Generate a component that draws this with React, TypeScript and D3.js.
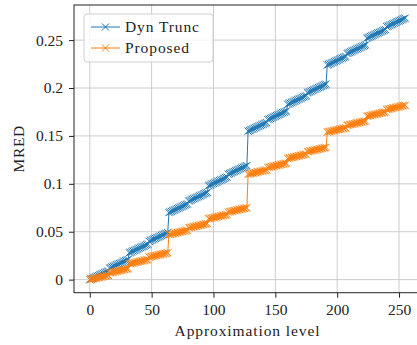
import React, { useEffect, useRef } from "react";
import * as d3 from "d3";

// MRED per approximation level (0..255)
const dynTrunc = [
  0, 0.0006, 0.0012, 0.0018, 0.0024, 0.003, 0.0036, 0.0042, 0.0048, 0.0054, 0.006, 0.0066, 0.0072, 0.0078, 0.0084, 0.009,
  0.012, 0.0126, 0.0132, 0.0138, 0.0144, 0.015, 0.0156, 0.0162, 0.0168, 0.0174, 0.018, 0.0186, 0.0192, 0.0198, 0.0204, 0.021,
  0.028, 0.0286, 0.0292, 0.0298, 0.0304, 0.031, 0.0316, 0.0322, 0.0328, 0.0334, 0.034, 0.0346, 0.0352, 0.0358, 0.0364, 0.037,
  0.04, 0.0406, 0.0412, 0.0418, 0.0424, 0.043, 0.0436, 0.0442, 0.0448, 0.0454, 0.046, 0.0466, 0.0472, 0.0478, 0.0484, 0.049,
  0.07, 0.0706, 0.0712, 0.0718, 0.0724, 0.073, 0.0736, 0.0742, 0.0748, 0.0754, 0.076, 0.0766, 0.0772, 0.0778, 0.0784, 0.079,
  0.082, 0.0826, 0.0832, 0.0838, 0.0844, 0.085, 0.0856, 0.0862, 0.0868, 0.0874, 0.088, 0.0886, 0.0892, 0.0898, 0.0904, 0.091,
  0.098, 0.0986, 0.0992, 0.0998, 0.1004, 0.101, 0.1016, 0.1022, 0.1028, 0.1034, 0.104, 0.1046, 0.1052, 0.1058, 0.1064, 0.107,
  0.11, 0.1106, 0.1112, 0.1118, 0.1124, 0.113, 0.1136, 0.1142, 0.1148, 0.1154, 0.116, 0.1166, 0.1172, 0.1178, 0.1184, 0.119,
  0.155, 0.1556, 0.1562, 0.1568, 0.1574, 0.158, 0.1586, 0.1592, 0.1598, 0.1604, 0.161, 0.1616, 0.1622, 0.1628, 0.1634, 0.164,
  0.167, 0.1676, 0.1682, 0.1688, 0.1694, 0.17, 0.1706, 0.1712, 0.1718, 0.1724, 0.173, 0.1736, 0.1742, 0.1748, 0.1754, 0.176,
  0.183, 0.1836, 0.1842, 0.1848, 0.1854, 0.186, 0.1866, 0.1872, 0.1878, 0.1884, 0.189, 0.1896, 0.1902, 0.1908, 0.1914, 0.192,
  0.195, 0.1956, 0.1962, 0.1968, 0.1974, 0.198, 0.1986, 0.1992, 0.1998, 0.2004, 0.201, 0.2016, 0.2022, 0.2028, 0.2034, 0.204,
  0.224, 0.2246, 0.2252, 0.2258, 0.2264, 0.227, 0.2276, 0.2282, 0.2288, 0.2294, 0.23, 0.2306, 0.2312, 0.2318, 0.2324, 0.233,
  0.236, 0.2366, 0.2372, 0.2378, 0.2384, 0.239, 0.2396, 0.2402, 0.2408, 0.2414, 0.242, 0.2426, 0.2432, 0.2438, 0.2444, 0.245,
  0.252, 0.2526, 0.2532, 0.2538, 0.2544, 0.255, 0.2556, 0.2562, 0.2568, 0.2574, 0.258, 0.2586, 0.2592, 0.2598, 0.2604, 0.261,
  0.264, 0.2646, 0.2652, 0.2658, 0.2664, 0.267, 0.2676, 0.2682, 0.2688, 0.2694, 0.27, 0.2706, 0.2712, 0.2718, 0.2724, 0.273,
];

const proposed = [
  0, 0.0003, 0.0006, 0.0009, 0.0012, 0.0015, 0.0018, 0.0021, 0.0024, 0.0027, 0.003, 0.0033, 0.0036, 0.0039, 0.0042, 0.0045,
  0.007, 0.0073, 0.0076, 0.0079, 0.0082, 0.0085, 0.0088, 0.0091, 0.0094, 0.0097, 0.01, 0.0103, 0.0106, 0.0109, 0.0112, 0.0115,
  0.0165, 0.0168, 0.0171, 0.0174, 0.0177, 0.018, 0.0183, 0.0186, 0.0189, 0.0192, 0.0195, 0.0198, 0.0201, 0.0204, 0.0207, 0.021,
  0.0235, 0.0238, 0.0241, 0.0244, 0.0247, 0.025, 0.0253, 0.0256, 0.0259, 0.0262, 0.0265, 0.0268, 0.0271, 0.0274, 0.0277, 0.028,
  0.047, 0.0473, 0.0476, 0.0479, 0.0482, 0.0485, 0.0488, 0.0491, 0.0494, 0.0497, 0.05, 0.0503, 0.0506, 0.0509, 0.0512, 0.0515,
  0.054, 0.0543, 0.0546, 0.0549, 0.0552, 0.0555, 0.0558, 0.0561, 0.0564, 0.0567, 0.057, 0.0573, 0.0576, 0.0579, 0.0582, 0.0585,
  0.0635, 0.0638, 0.0641, 0.0644, 0.0647, 0.065, 0.0653, 0.0656, 0.0659, 0.0662, 0.0665, 0.0668, 0.0671, 0.0674, 0.0677, 0.068,
  0.0705, 0.0708, 0.0711, 0.0714, 0.0717, 0.072, 0.0723, 0.0726, 0.0729, 0.0732, 0.0735, 0.0738, 0.0741, 0.0744, 0.0747, 0.075,
  0.11, 0.1103, 0.1106, 0.1109, 0.1112, 0.1115, 0.1118, 0.1121, 0.1124, 0.1127, 0.113, 0.1133, 0.1136, 0.1139, 0.1142, 0.1145,
  0.117, 0.1173, 0.1176, 0.1179, 0.1182, 0.1185, 0.1188, 0.1191, 0.1194, 0.1197, 0.12, 0.1203, 0.1206, 0.1209, 0.1212, 0.1215,
  0.1265, 0.1268, 0.1271, 0.1274, 0.1277, 0.128, 0.1283, 0.1286, 0.1289, 0.1292, 0.1295, 0.1298, 0.1301, 0.1304, 0.1307, 0.131,
  0.1335, 0.1338, 0.1341, 0.1344, 0.1347, 0.135, 0.1353, 0.1356, 0.1359, 0.1362, 0.1365, 0.1368, 0.1371, 0.1374, 0.1377, 0.138,
  0.154, 0.1543, 0.1546, 0.1549, 0.1552, 0.1555, 0.1558, 0.1561, 0.1564, 0.1567, 0.157, 0.1573, 0.1576, 0.1579, 0.1582, 0.1585,
  0.161, 0.1613, 0.1616, 0.1619, 0.1622, 0.1625, 0.1628, 0.1631, 0.1634, 0.1637, 0.164, 0.1643, 0.1646, 0.1649, 0.1652, 0.1655,
  0.1705, 0.1708, 0.1711, 0.1714, 0.1717, 0.172, 0.1723, 0.1726, 0.1729, 0.1732, 0.1735, 0.1738, 0.1741, 0.1744, 0.1747, 0.175,
  0.1775, 0.1778, 0.1781, 0.1784, 0.1787, 0.179, 0.1793, 0.1796, 0.1799, 0.1802, 0.1805, 0.1808, 0.1811, 0.1814, 0.1817, 0.182,
];

const seriesNames = ["Dyn Trunc", "Proposed"];
const seriesColors = ["#1f77b4", "#ff7f0e"];
const xTicks = [0, 50, 100, 150, 200, 250];
const yTicks = [0, 0.05, 0.1, 0.15, 0.2, 0.25];

const W = 417;
const H = 345;
const FONT = "'Liberation Serif', 'DejaVu Serif', serif";

const App: React.FC = () => {
  const ref = useRef<SVGSVGElement | null>(null);

  useEffect(() => {
    if (!ref.current) return;
    const svg = d3.select(ref.current);
    svg.selectAll("*").remove();

    const left = 74, right = 421, top = 5, bottom = 292.7;

    const x = d3.scaleLinear().domain([-12.75, 267.75]).range([left, right]);
    const y = d3.scaleLinear().domain([-0.01365, 0.28665]).range([bottom, top]);

    const defs = svg.append("defs");
    defs.append("clipPath").attr("id", "plot")
      .append("rect").attr("x", left).attr("y", top)
      .attr("width", right - left).attr("height", bottom - top);

    // grid
    const grid = svg.append("g").attr("stroke", "#cccccc").attr("stroke-width", 1);
    xTicks.forEach((t) => {
      grid.append("line").attr("x1", x(t)).attr("x2", x(t)).attr("y1", top).attr("y2", bottom);
    });
    yTicks.forEach((t) => {
      grid.append("line").attr("x1", left).attr("x2", right).attr("y1", y(t)).attr("y2", y(t));
    });

    // series
    const series = [dynTrunc, proposed];
    const plot = svg.append("g").attr("clip-path", "url(#plot)");
    const line = d3.line<number>().x((_, i) => x(i)).y((d) => y(d));
    const m = 3.6;
    series.forEach((vals, si) => {
      const g = plot.append("g");
      g.append("path").datum(vals).attr("d", line)
        .attr("fill", "none").attr("stroke", seriesColors[si]).attr("stroke-width", 1);
      g.append("path")
        .attr("d", vals.map((v, i) => {
          const cx = x(i), cy = y(v);
          return `M${cx - m},${cy - m}L${cx + m},${cy + m}M${cx - m},${cy + m}L${cx + m},${cy - m}`;
        }).join(""))
        .attr("fill", "none").attr("stroke", seriesColors[si]).attr("stroke-width", 1);
    });

    // frame
    svg.append("rect").attr("x", left).attr("y", top)
      .attr("width", right - left).attr("height", bottom - top)
      .attr("fill", "none").attr("stroke", "#222").attr("stroke-width", 1);

    // axes
    const xAxis = svg.append("g").attr("transform", `translate(0,${bottom})`)
      .call(d3.axisBottom(x).tickValues(xTicks).tickSize(5).tickPadding(6).tickFormat((d) => String(d)));
    const yAxis = svg.append("g").attr("transform", `translate(${left},0)`)
      .call(d3.axisLeft(y).tickValues(yTicks).tickSize(5).tickPadding(6).tickFormat((d) => String(d)));
    [xAxis, yAxis].forEach((a) => {
      a.select(".domain").remove();
      a.selectAll("line").attr("stroke", "#222");
      a.selectAll("text").attr("font-family", FONT).attr("font-size", 15.5).attr("fill", "#222");
    });

    svg.append("text").attr("x", (left + right) / 2).attr("y", 336)
      .attr("text-anchor", "middle").attr("font-family", FONT).attr("font-size", 15.5)
      .attr("letter-spacing", 0.9).attr("fill", "#222")
      .text("Approximation level");
    svg.append("text").attr("transform", `translate(24,${(top + bottom) / 2}) rotate(-90)`)
      .attr("text-anchor", "middle").attr("font-family", FONT).attr("font-size", 15.5)
      .attr("letter-spacing", 0.6).attr("fill", "#222")
      .text("MRED");

    // legend
    const lg = svg.append("g");
    lg.append("rect").attr("x", 84).attr("y", 14).attr("width", 129).attr("height", 48).attr("rx", 3)
      .attr("fill", "white").attr("fill-opacity", 0.8).attr("stroke", "#d0d0d0").attr("stroke-width", 1);
    seriesNames.forEach((name, i) => {
      const cy = 27 + i * 21;
      lg.append("line").attr("x1", 91).attr("x2", 120).attr("y1", cy).attr("y2", cy)
        .attr("stroke", seriesColors[i]).attr("stroke-width", 1);
      lg.append("path").attr("d", `M${105.5 - m},${cy - m}L${105.5 + m},${cy + m}M${105.5 - m},${cy + m}L${105.5 + m},${cy - m}`)
        .attr("stroke", seriesColors[i]).attr("stroke-width", 1);
      lg.append("text").attr("x", 125).attr("y", cy).attr("dy", "0.35em")
        .attr("font-family", FONT).attr("font-size", 15.5).attr("letter-spacing", 0.9)
        .attr("fill", "#222").text(name);
    });
  }, []);

  return (
    <div style={{ position: "absolute", left: 0, top: 0 }}>
      <svg ref={ref} width={W} height={H} style={{ display: "block", background: "white" }} />
    </div>
  );
};

export default App;
